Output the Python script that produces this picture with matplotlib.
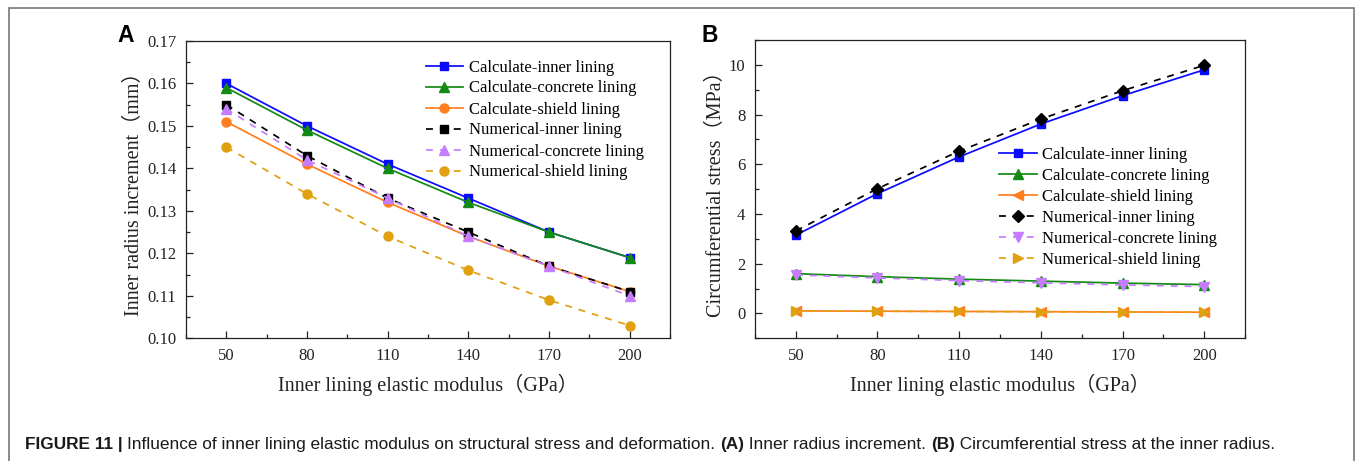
import matplotlib
matplotlib.use("Agg")
import matplotlib.pyplot as plt
from matplotlib.ticker import AutoMinorLocator
from matplotlib.patches import Rectangle

# ---------------- data ----------------
modulus = [50, 80, 110, 140, 170, 200]

labels = ["Calculate-inner lining", "Calculate-concrete lining", "Calculate-shield lining",
          "Numerical-inner lining", "Numerical-concrete lining", "Numerical-shield lining"]

a_calc_inner = [0.160, 0.150, 0.141, 0.133, 0.125, 0.119]
a_calc_concrete = [0.159, 0.149, 0.140, 0.132, 0.125, 0.119]
a_calc_shield = [0.151, 0.141, 0.132, 0.124, 0.117, 0.111]
a_num_inner = [0.155, 0.143, 0.133, 0.125, 0.117, 0.111]
a_num_concrete = [0.154, 0.142, 0.133, 0.124, 0.117, 0.110]
a_num_shield = [0.145, 0.134, 0.124, 0.116, 0.109, 0.103]

b_calc_inner = [3.15, 4.82, 6.30, 7.62, 8.76, 9.80]
b_calc_concrete = [1.60, 1.48, 1.38, 1.30, 1.22, 1.16]
b_calc_shield = [0.10, 0.09, 0.08, 0.07, 0.06, 0.05]
b_num_inner = [3.32, 5.02, 6.53, 7.82, 8.96, 9.98]
b_num_concrete = [1.55, 1.43, 1.32, 1.23, 1.15, 1.08]
b_num_shield = [0.10, 0.09, 0.08, 0.07, 0.06, 0.05]

xticks = [50, 80, 110, 140, 170, 200]
a_yticks = [0.10, 0.11, 0.12, 0.13, 0.14, 0.15, 0.16, 0.17]
b_yticks = [0, 2, 4, 6, 8, 10]

# ---------------- style ----------------
W, H = 1357, 461
SERIF = ["Liberation Serif", "Noto Sans CJK SC"]
plt.rcParams["font.family"] = SERIF
plt.rcParams["axes.linewidth"] = 0.9

BLUE = "#0a0aff"
GREEN = "#138a13"
ORANGE = "#ff7f1e"
BLACK = "#000000"
VIOLET = "#c77cff"
GOLD = "#e0a010"
DASH = (0, (4, 4))

fig = plt.figure(figsize=(W / 100, H / 100), dpi=100)


def px_axes(l, t, r, b):
    return fig.add_axes([l / W, 1 - b / H, (r - l) / W, (b - t) / H])


def style_axes(ax):
    ax.tick_params(which="both", direction="in", top=False, right=False, labelsize=12,
                   colors="#222222")
    ax.tick_params(which="major", length=5, width=0.9, pad=7)
    ax.tick_params(which="minor", length=3, width=0.9)
    ax.xaxis.set_minor_locator(AutoMinorLocator(2))
    ax.yaxis.set_minor_locator(AutoMinorLocator(2))
    for s in ax.spines.values():
        s.set_color("#222222")


LEG = dict(frameon=False, fontsize=12, handlelength=2.25, handletextpad=0.35, labelspacing=0.3,
           borderpad=0, borderaxespad=0)
lw = 1.25
# ---------------- panel A ----------------
axA = px_axes(186, 41, 670, 338.3)
sA = [
    (a_calc_inner, BLUE, "-", "s", 6),
    (a_calc_concrete, GREEN, "-", "^", 6.5),
    (a_calc_shield, ORANGE, "-", "o", 6.5),
    (a_num_inner, BLACK, DASH, "s", 6),
    (a_num_concrete, VIOLET, DASH, "^", 6.5),
    (a_num_shield, GOLD, DASH, "o", 6.5),
]
for (vals, c, ls, m, ms), lab in zip(sA, labels):
    axA.plot(modulus, vals, color=c, linestyle=ls, marker=m, markersize=ms, lw=lw, label=lab)
axA.set_xlim(35, 215)
axA.set_ylim(0.10, 0.17)
axA.set_xticks(xticks)
axA.set_yticks(a_yticks)
axA.set_yticklabels([f"{v:.2f}" for v in a_yticks])
style_axes(axA)
axA.set_xlabel("Inner lining elastic modulus（GPa）", fontsize=14.5, labelpad=7, color="#222222")
axA.set_ylabel("Inner radius increment（mm）", fontsize=14.5, labelpad=2, color="#222222")
axA.legend(loc="upper left", bbox_to_anchor=(425.7 / W, 1 - 59.5 / H), bbox_transform=fig.transFigure,
           **LEG)

# ---------------- panel B ----------------
axB = px_axes(755, 40, 1245, 338.3)
sB = [
    (b_calc_inner, BLUE, "-", "s", 6),
    (b_calc_concrete, GREEN, "-", "^", 6.5),
    (b_calc_shield, ORANGE, "-", "<", 6.5),
    (b_num_inner, BLACK, DASH, "D", 6),
    (b_num_concrete, VIOLET, DASH, "v", 6.5),
    (b_num_shield, GOLD, DASH, ">", 6.5),
]
for (vals, c, ls, m, ms), lab in zip(sB, labels):
    axB.plot(modulus, vals, color=c, linestyle=ls, marker=m, markersize=ms, lw=lw, label=lab)
axB.set_xlim(35, 215)
axB.set_ylim(-1, 11)
axB.set_xticks(xticks)
axB.set_yticks(b_yticks)
style_axes(axB)
axB.set_xlabel("Inner lining elastic modulus（GPa）", fontsize=14.5, labelpad=7, color="#222222")
axB.set_ylabel("Circumferential stress（MPa）", fontsize=14.5, labelpad=2, color="#222222")
axB.legend(loc="upper left", bbox_to_anchor=(999 / W, 1 - 147 / H), bbox_transform=fig.transFigure,
           **LEG)

# panel letters
fig.text(126 / W, 1 - 36 / H, "A", family="Liberation Sans", weight="bold", fontsize=16.5,
         ha="center", va="center")
fig.text(710 / W, 1 - 36 / H, "B", family="Liberation Sans", weight="bold", fontsize=16.5,
         ha="center", va="center")

# outer frame
fig.patches.append(Rectangle((9 / W, -0.1), (1354 - 9) / W, 1 - 8 / H + 0.1, transform=fig.transFigure,
                             fill=False, edgecolor="#777777", lw=1.2))

# caption
parts = [
    ("FIGURE 11 | ", "bold"),
    ("Influence of inner lining elastic modulus on structural stress and deformation. ", "normal"),
    ("(A)", "bold"),
    (" Inner radius increment. ", "normal"),
    ("(B)", "bold"),
    (" Circumferential stress at the inner radius.", "normal"),
]
CAP = 12.4
texts = []
for txt, wgt in parts:
    texts.append(fig.text(0, 0, txt, family="Liberation Sans", weight=wgt, fontsize=CAP,
                          color="#1a1a1a", ha="left", va="baseline"))
fig.canvas.draw()
r = fig.canvas.get_renderer()
x = 25
for t in texts:
    t.set_position((x / W, 1 - 449 / H))
    x += t.get_window_extent(r).width

fig.savefig("out.png", dpi=100)
